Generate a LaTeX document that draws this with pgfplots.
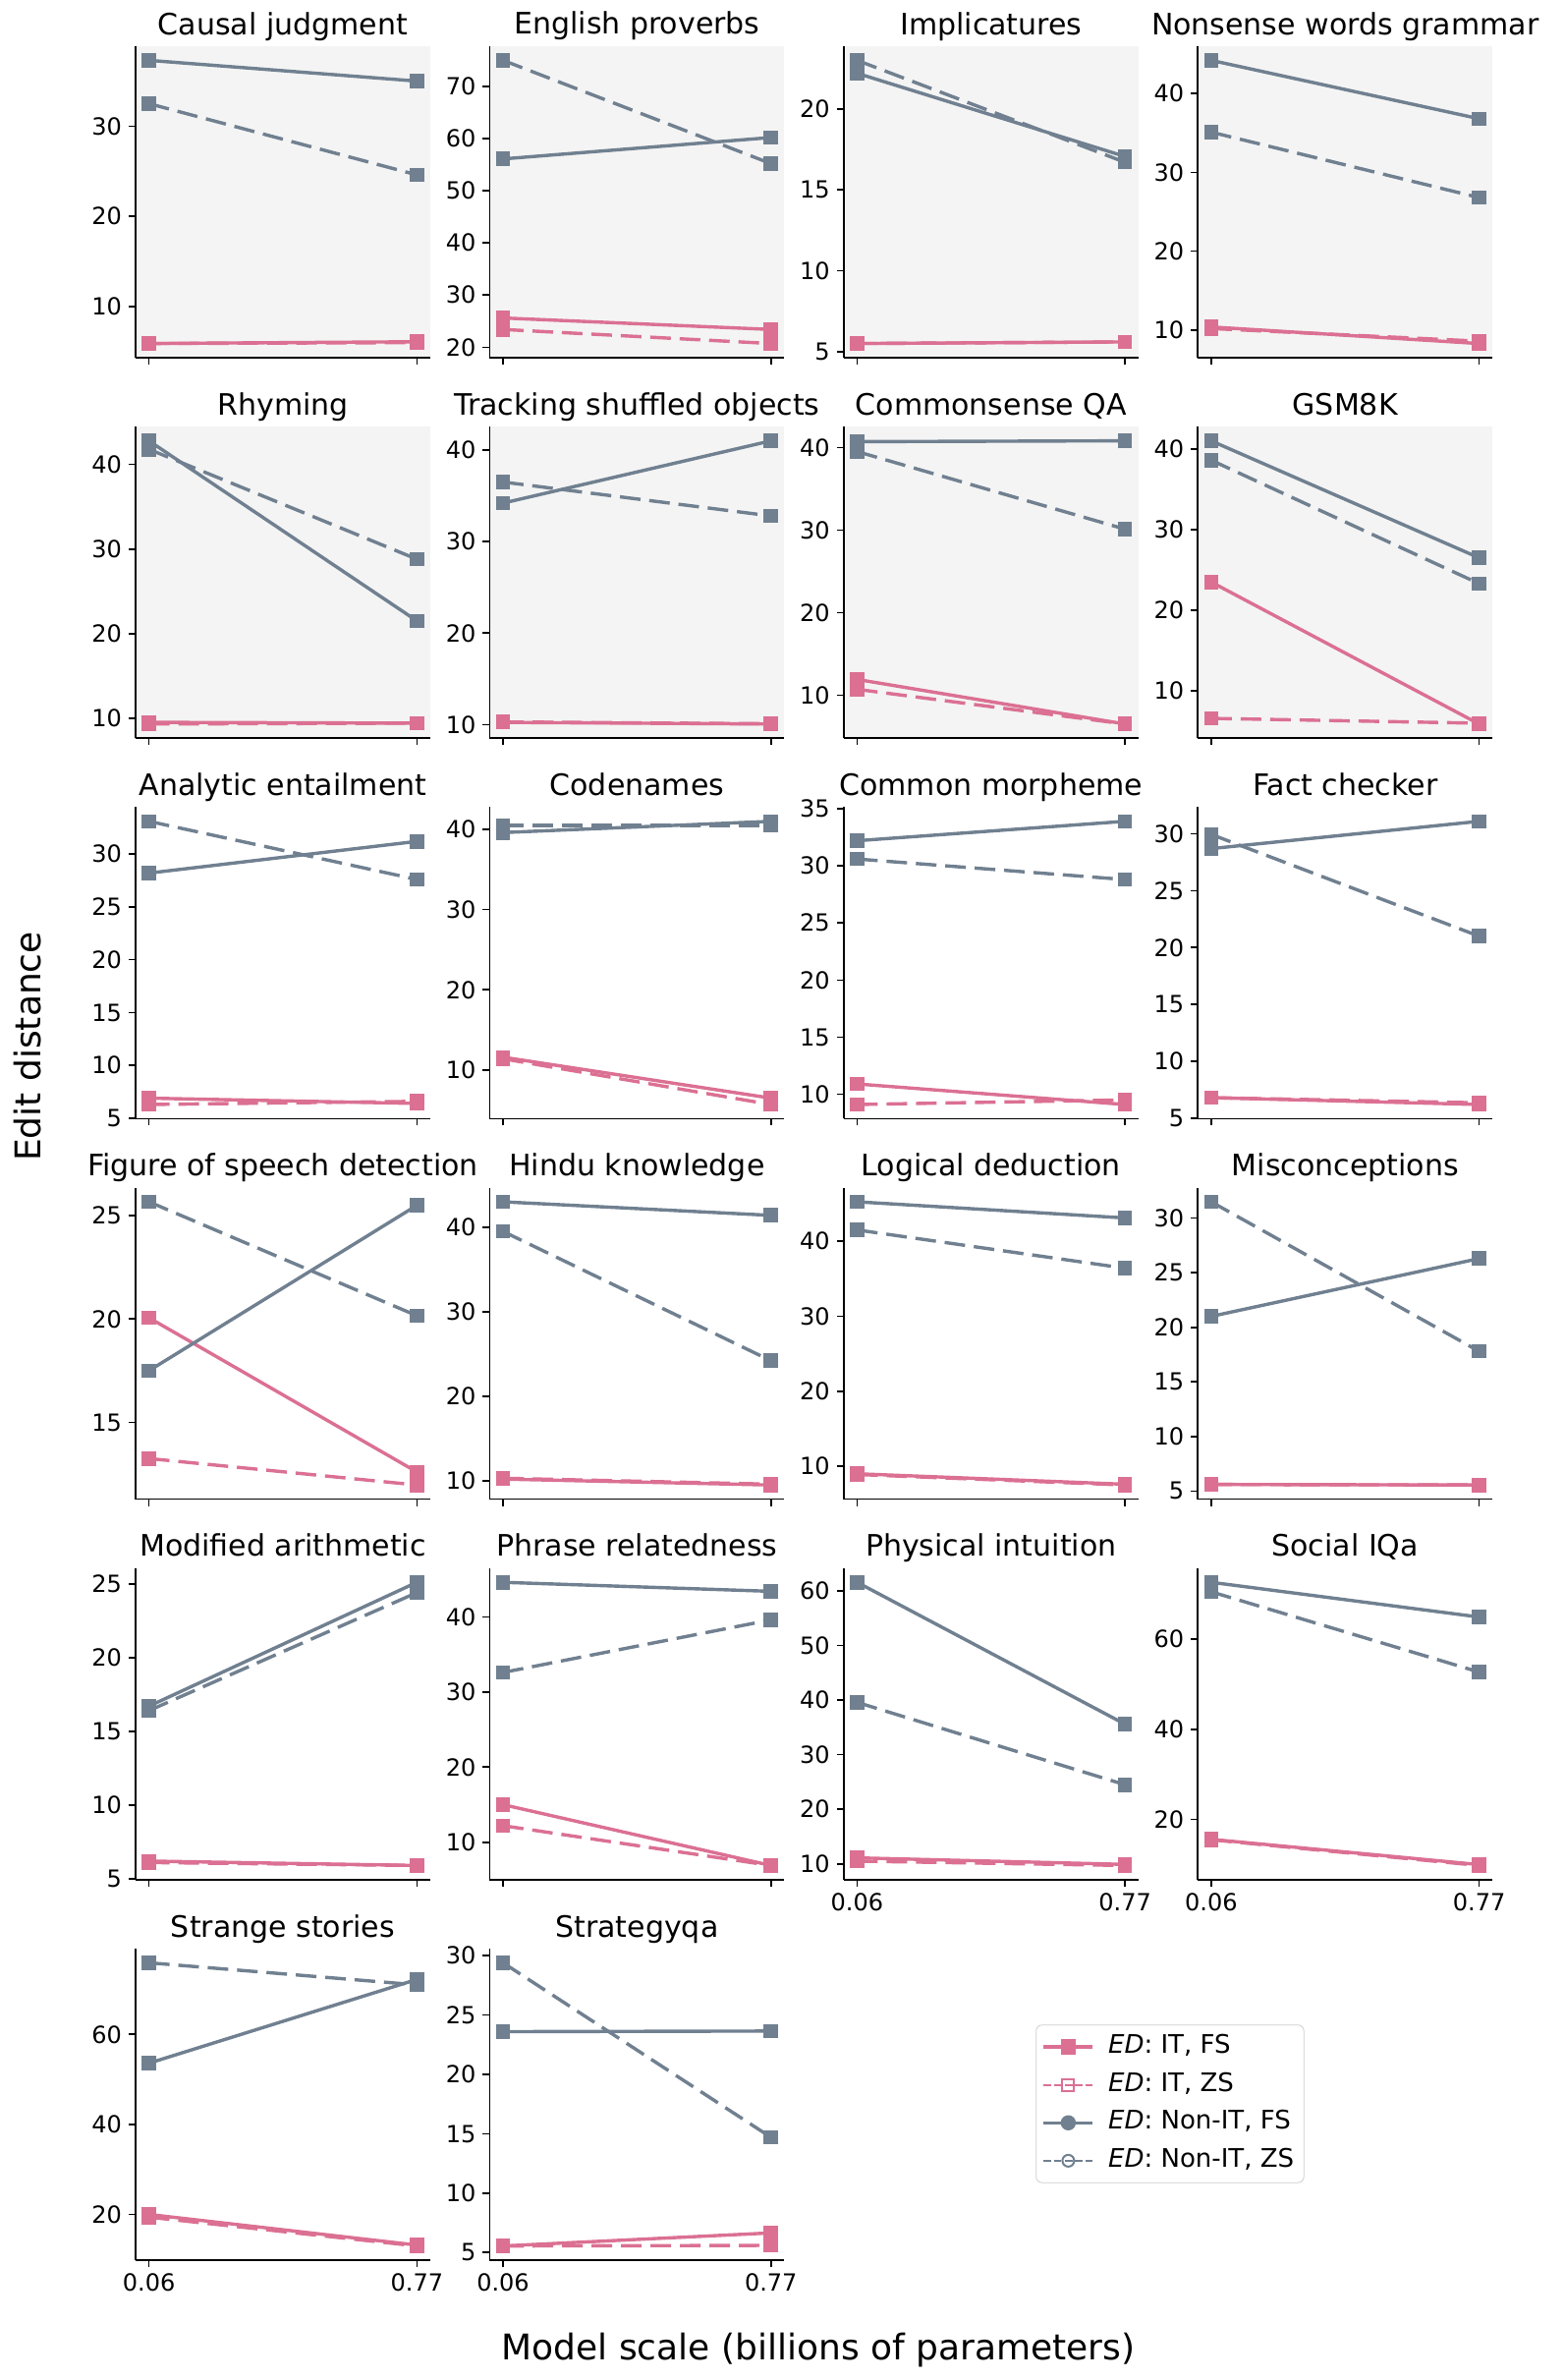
\documentclass[border=0pt]{standalone}
\usepackage{fontspec}
\setmainfont{DejaVu Sans}
\usepackage{pgfplots}
\pgfplotsset{compat=1.18}
\usepgfplotslibrary{groupplots}
\usetikzlibrary{calc}

\definecolor{pvr}{RGB}{219,112,147}
\definecolor{slg}{RGB}{112,128,144}
\definecolor{bgc}{RGB}{244,244,244}

\pgfplotsset{
  itfs/.style={color=pvr, solid, line width=1.7pt, mark=square*, mark size=2.8pt, mark options={solid}},
  itzs/.style={color=pvr, dash pattern=on 10.5pt off 4.5pt, line width=1.7pt, mark=square*, mark size=2.8pt, mark options={solid}},
  nfs/.style={color=slg, solid, line width=1.7pt, mark=square*, mark size=2.8pt, mark options={solid}},
  nzs/.style={color=slg, dash pattern=on 10.5pt off 4.5pt, line width=1.7pt, mark=square*, mark size=2.8pt, mark options={solid}},
  shaded/.style={axis background/.style={fill=bgc}},
  xlab/.style={xticklabels={0.06,0.77}},
}

% IT FS, IT ZS, Non-IT FS, Non-IT ZS : values at 0.06 and 0.77
\newcommand{\pl}[8]{%
  \addplot[itfs] coordinates {(0,#1) (1,#2)};
  \addplot[itzs] coordinates {(0,#3) (1,#4)};
  \addplot[nfs] coordinates {(0,#5) (1,#6)};
  \addplot[nzs] coordinates {(0,#7) (1,#8)};
}

\begin{document}
\begin{tikzpicture}
\begin{groupplot}[
  group style={group size=4 by 6, horizontal sep=30.2pt, vertical sep=35.1pt},
  width=150pt, height=158.5pt, scale only axis,
  enlarge x limits=0.05, enlarge y limits=0.05,
  xtick={0,1}, xticklabels={},
  axis x line*=bottom, axis y line*=left,
  axis line style={line width=0.8pt, -},
  tick align=outside, major tick length=3.5pt,
  tick style={black, line width=0.8pt},
  tick label style={font=\fontsize{12}{14}\selectfont},
  /pgf/number format/assume math mode=true,
  title style={font=\fontsize{15}{18}\selectfont, at={(0.5,1)}, anchor=base, inner sep=0pt},
]
% row 1
\nextgroupplot[shaded, title={Causal judgment}, ytick={10,20,30}]
\pl{5.9}{6.1}{5.9}{6.0}{37.3}{35.0}{32.5}{24.6}
\nextgroupplot[shaded, title={English proverbs}, ytick={20,30,...,70}]
\pl{25.6}{23.4}{23.4}{20.7}{56.1}{60.2}{75.0}{55.2}
\nextgroupplot[shaded, title={Implicatures}, ytick={5,10,15,20}]
\pl{5.5}{5.6}{5.5}{5.6}{22.2}{17.06}{23.0}{16.7}
\nextgroupplot[shaded, title={Nonsense words grammar}, ytick={10,20,30,40}]
\pl{10.4}{8.3}{10.2}{8.6}{44.2}{36.8}{35.1}{26.8}
% row 2
\nextgroupplot[shaded, title={Rhyming}, ytick={10,20,30,40}]
\pl{9.5}{9.4}{9.3}{9.4}{42.8}{21.5}{41.8}{28.8}
\nextgroupplot[shaded, title={Tracking shuffled objects}, ytick={10,20,30,40}]
\pl{10.25}{10.07}{10.3}{10.1}{34.2}{41.0}{36.5}{32.8}
\nextgroupplot[shaded, title={Commonsense QA}, ytick={10,20,30,40}]
\pl{11.9}{6.5}{10.7}{6.5}{40.7}{40.8}{39.5}{30.1}
\nextgroupplot[shaded, title={GSM8K}, ytick={10,20,30,40}]
\pl{23.5}{5.9}{6.6}{6.0}{41.0}{26.5}{38.6}{23.3}
% row 3
\nextgroupplot[title={Analytic entailment}, ytick={5,10,...,30}]
\pl{6.9}{6.4}{6.3}{6.6}{28.2}{31.2}{33.1}{27.6}
\nextgroupplot[title={Codenames}, ytick={10,20,30,40}]
\pl{11.6}{6.5}{11.4}{5.7}{39.6}{41.0}{40.5}{40.5}
\nextgroupplot[title={Common morpheme}, ytick={10,15,...,35}]
\pl{10.9}{9.1}{9.1}{9.5}{32.2}{33.9}{30.6}{28.8}
\nextgroupplot[title={Fact checker}, ytick={5,10,...,30}]
\pl{6.8}{6.2}{6.8}{6.35}{28.7}{31.1}{29.95}{21.0}
% row 4
\nextgroupplot[title={Figure of speech detection}, ytick={15,20,25}]
\pl{20.06}{12.6}{13.25}{11.97}{17.5}{25.5}{25.67}{20.16}
\nextgroupplot[title={Hindu knowledge}, ytick={10,20,30,40}]
\pl{10.2}{9.5}{10.3}{9.6}{43.0}{41.4}{39.5}{24.2}
\nextgroupplot[title={Logical deduction}, ytick={10,20,30,40}]
\pl{9.0}{7.6}{8.9}{7.5}{45.25}{43.1}{41.5}{36.4}
\nextgroupplot[title={Misconceptions}, ytick={5,10,...,30}]
\pl{5.6}{5.55}{5.6}{5.55}{21.0}{26.3}{31.5}{17.8}
% row 5
\nextgroupplot[title={Modified arithmetic}, ytick={5,10,...,25}]
\pl{6.2}{5.9}{6.1}{5.9}{16.7}{25.1}{16.4}{24.4}
\nextgroupplot[title={Phrase relatedness}, ytick={10,20,30,40}]
\pl{15.0}{6.9}{12.2}{6.9}{44.6}{43.4}{32.6}{39.6}
\nextgroupplot[xlab, title={Physical intuition}, ytick={10,20,...,60}]
\pl{11.1}{9.9}{10.5}{9.7}{61.6}{35.6}{39.6}{24.5}
\nextgroupplot[xlab, title={Social IQa}, ytick={20,40,60}]
\pl{15.6}{10.0}{15.5}{9.8}{72.6}{64.9}{70.5}{52.7}
% row 6
\nextgroupplot[xlab, title={Strange stories}, ytick={20,40,60}]
\pl{20.0}{13.2}{19.4}{13.0}{53.6}{72.2}{75.9}{71.0}
\nextgroupplot[xlab, title={Strategyqa}, ytick={5,10,...,30},
  legend style={at={(1.853,0.756)}, anchor=north west,
    font=\fontsize{13}{15}\selectfont, draw=black!20, rounded corners=3pt,
    inner xsep=3pt, inner ysep=3pt, row sep=3pt,
    nodes={inner xsep=2pt, inner ysep=2pt, text height=9.5pt, text depth=2.8pt},
    /tikz/every odd column/.append style={column sep=5pt}},
  legend cell align=left,
  legend image code/.code={\draw[mark repeat=2,mark phase=2,#1] plot coordinates {(0pt,0pt) (12.5pt,0pt) (25pt,0pt)};}]
\addlegendimage{color=pvr, solid, line width=1.7pt, mark=square*, mark size=3pt}
\addlegendimage{color=pvr, line width=1pt, dash pattern=on 3.7pt off 1.6pt, mark=square, mark size=3pt, mark options={solid, fill=white}}
\addlegendimage{color=slg, solid, line width=1.7pt, mark=*, mark size=3pt}
\addlegendimage{color=slg, line width=1pt, dash pattern=on 3.7pt off 1.6pt, mark=o, mark size=3pt, mark options={solid, fill=white}}
\pl{5.55}{6.65}{5.55}{5.6}{23.6}{23.65}{29.4}{14.7}
\legend{\textit{ED}: IT{,} FS, \textit{ED}: IT{,} ZS, \textit{ED}: Non-IT{,} FS, \textit{ED}: Non-IT{,} ZS}
\end{groupplot}
\coordinate (O) at ($(group c1r1.north west)+(-69pt,23.5pt)$);
\node[rotate=90, font=\fontsize{18}{21}\selectfont] at ($(O)+(14pt,-532.5pt)$) {Edit distance};
\node[font=\fontsize{18}{21}\selectfont] at ($(O)+(416.5pt,-1196pt)$) {Model scale (billions of parameters)};
\pgfresetboundingbox
\path (O) rectangle ($(O)+(796pt,-1211pt)$);
\end{tikzpicture}
\end{document}
